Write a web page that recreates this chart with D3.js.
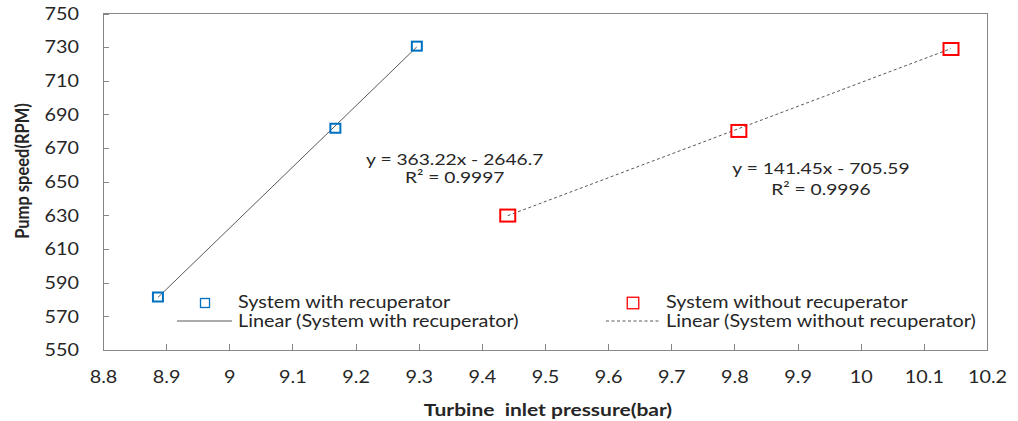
<!DOCTYPE html>
<html>
<head>
<meta charset="utf-8">
<script src="https://cdn.jsdelivr.net/npm/d3@7"></script>
<style>
  body { margin: 0; background: #fff; }
  svg { display: block; }
</style>
</head>
<body>
<svg id="chart" width="1018" height="421"></svg>
<script>
// Measured operating points
const pressureWith = [8.887, 9.168, 9.297];
const speedWith = [581.5, 681.8, 730.6];
const pressureWithout = [9.441, 9.807, 10.143];
const speedWithout = [629.9, 680.2, 728.9];

// Linear trendline fits: [with recuperator, without recuperator]
const fitSlopes = [363.22, 141.45];
const fitIntercepts = [-2646.7, -705.59];
const fitR2 = ["0.9997", "0.9996"];
// where each fit equation is written, in data units
const fitLabelX = [9.357, 9.937];
const fitLabelY = [660, 654.6];

// Axis ticks
const xTickValues = [8.8, 8.9, 9.0, 9.1, 9.2, 9.3, 9.4, 9.5, 9.6, 9.7, 9.8, 9.9, 10.0, 10.1, 10.2];
const xTickLabels = ["8.8", "8.9", "9", "9.1", "9.2", "9.3", "9.4", "9.5", "9.6", "9.7", "9.8", "9.9", "10", "10.1", "10.2"];
const yTickValues = [550, 570, 590, 610, 630, 650, 670, 690, 710, 730, 750];
const yTickLabels = ["550", "570", "590", "610", "630", "650", "670", "690", "710", "730", "750"];

const seriesNames = ["System with recuperator", "System without recuperator"];

// ---- layout / style ----
const FONT = "Lato, 'Open Sans', sans-serif";
const SX = 1.2;              // horizontal text stretch
const TEXT = "#262626";
const AXIS = "#868686";
const BLUE = "#0070C0";
const RED = "#FF0000";
const TREND = "#595959";

const plot = { left: 103, right: 987, top: 13.5, bottom: 350 };

const svg = d3.select("#chart");

const x = d3.scaleLinear().domain([8.8, 10.2]).range([plot.left, plot.right]);
const y = d3.scaleLinear().domain([550, 750]).range([plot.bottom, plot.top]);

function stretchedText(parent, px, py, str, opts = {}) {
  const rot = opts.rotate ? ` rotate(${opts.rotate}) scale(1,${SX})` : ` scale(${SX},1)`;
  return parent.append("text")
    .attr("transform", `translate(${px},${py})` + rot)
    .attr("text-anchor", opts.anchor || "start")
    .attr("font-family", FONT)
    .attr("font-size", opts.size || 16)
    .attr("font-weight", opts.weight || "normal")
    .attr("fill", TEXT)
    .text(str);
}

// plot frame
svg.append("rect")
  .attr("x", plot.left).attr("y", plot.top)
  .attr("width", plot.right - plot.left).attr("height", plot.bottom - plot.top)
  .attr("fill", "none").attr("stroke", AXIS).attr("stroke-width", 1)
  .attr("shape-rendering", "crispEdges");

// x axis (ticks point into the plot)
const xAxis = svg.append("g")
  .attr("transform", `translate(0,${plot.bottom})`)
  .call(d3.axisBottom(x).tickValues(xTickValues)
    .tickFormat((d, i) => xTickLabels[i]).tickSizeInner(-6).tickSizeOuter(0));
xAxis.select(".domain").remove();
xAxis.selectAll(".tick line").attr("stroke", AXIS).attr("shape-rendering", "crispEdges");
xAxis.selectAll(".tick text")
  .attr("y", 33).attr("dy", null)
  .attr("transform", `scale(${SX},1)`)
  .attr("font-family", FONT).attr("font-size", 16.5).attr("fill", TEXT);

// y axis; labels right-aligned, stretched about their own end point
const yAxis = svg.append("g")
  .attr("transform", `translate(${plot.left},0)`)
  .call(d3.axisLeft(y).tickValues(yTickValues)
    .tickFormat((d, i) => yTickLabels[i]).tickSizeInner(-6).tickSizeOuter(0));
yAxis.select(".domain").remove();
yAxis.selectAll(".tick line").attr("stroke", AXIS).attr("shape-rendering", "crispEdges");
yAxis.selectAll(".tick text")
  .attr("x", -24 / SX).attr("dy", "0.35em")
  .attr("transform", `scale(${SX},1)`)
  .attr("font-family", FONT).attr("font-size", 16.5).attr("fill", TEXT);

// axis titles
stretchedText(svg, (plot.left + plot.right) / 2 + 3, 416, "Turbine\u00a0\u00a0inlet pressure(bar)",
  { anchor: "middle", size: 17.5, weight: "bold" });
stretchedText(svg, 29, 171, "Pump speed(RPM)",
  { anchor: "middle", size: 16.5, weight: "bold", rotate: -90 });

// trendlines
const fitData = [
  { xs: pressureWith, k: 0, dash: null },
  { xs: pressureWithout, k: 1, dash: "3,2.5" }
];
const line = d3.line().x(d => x(d[0])).y(d => y(d[1]));
fitData.forEach(f => {
  const ends = d3.extent(f.xs).map(v => [v, fitSlopes[f.k] * v + fitIntercepts[f.k]]);
  svg.append("path")
    .attr("d", line(ends))
    .attr("fill", "none")
    .attr("stroke", TREND)
    .attr("stroke-width", 1)
    .attr("stroke-dasharray", f.dash);
});

// markers
const withPts = pressureWith.map((p, i) => [p, speedWith[i]]);
const withoutPts = pressureWithout.map((p, i) => [p, speedWithout[i]]);

svg.append("g").selectAll("rect").data(withPts).join("rect")
  .attr("x", d => x(d[0]) - 5).attr("y", d => y(d[1]) - 4.5)
  .attr("width", 10).attr("height", 9)
  .attr("fill", "none").attr("stroke", BLUE).attr("stroke-width", 2);

svg.append("g").selectAll("rect").data(withoutPts).join("rect")
  .attr("x", d => x(d[0]) - 7.5).attr("y", d => y(d[1]) - 6)
  .attr("width", 15).attr("height", 12)
  .attr("fill", "none").attr("stroke", RED).attr("stroke-width", 2);

// fit equations
[0, 1].forEach(k => {
  const lx = x(fitLabelX[k]), ly = y(fitLabelY[k]);
  const eq = `y = ${fitSlopes[k]}x - ${Math.abs(fitIntercepts[k])}`;
  stretchedText(svg, lx, ly, eq, { anchor: "middle", size: 16 });
  stretchedText(svg, lx, ly + (k === 0 ? 18.5 : 21), `R\u00b2 = ${fitR2[k]}`, { anchor: "middle", size: 16 });
});

// legend
const legend = svg.append("g");
const legendCols = [
  { sq: 205, line: [177, 232], text: 238, color: BLUE, size: 9, dash: null },
  { sq: 633, line: [606, 661], text: 666, color: RED, size: 11.5, dash: "3,2.5" }
];
legendCols.forEach((c, i) => {
  legend.append("rect")
    .attr("x", c.sq - c.size / 2).attr("y", 303 - c.size / 2)
    .attr("width", c.size).attr("height", c.size)
    .attr("fill", "none").attr("stroke", c.color).attr("stroke-width", 1.3);
  stretchedText(legend, c.text, 308, seriesNames[i], { size: 16.5 });
  legend.append("line")
    .attr("x1", c.line[0]).attr("x2", c.line[1]).attr("y1", 321).attr("y2", 321)
    .attr("stroke", TREND).attr("stroke-width", 1).attr("stroke-dasharray", c.dash);
  stretchedText(legend, c.text, 327, `Linear (${seriesNames[i]})`, { size: 16.5 });
});
</script>
</body>
</html>
